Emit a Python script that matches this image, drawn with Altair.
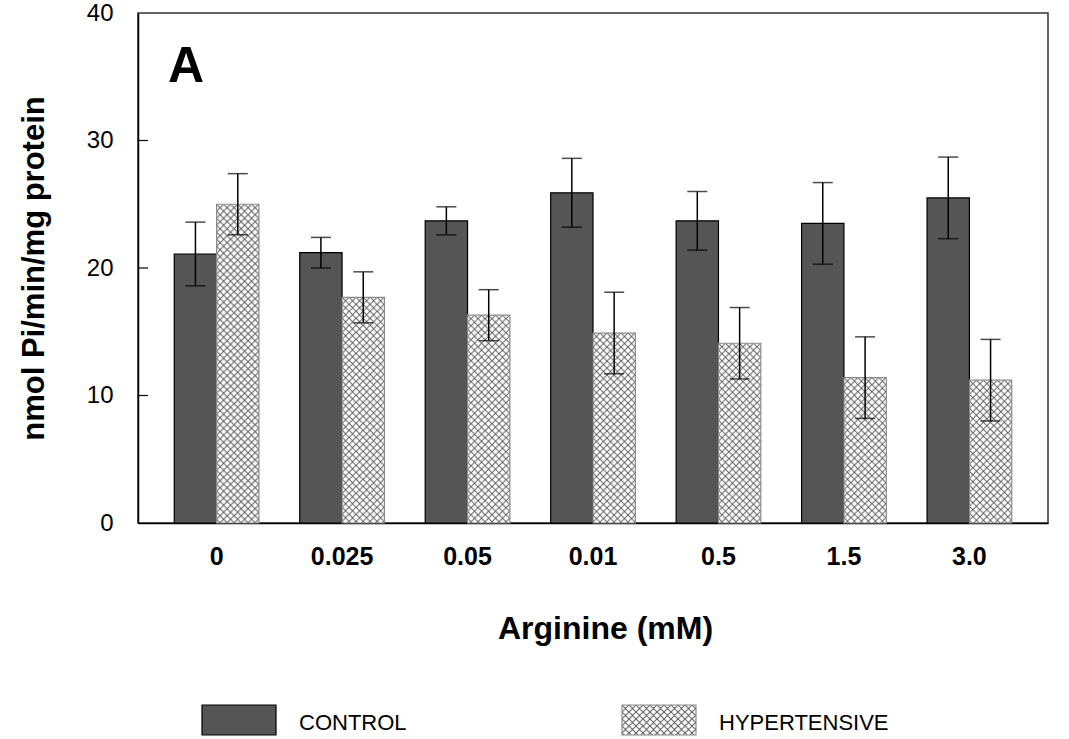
import urllib.parse

import altair as alt
import pandas as pd

# Arginine doses (x categories) and the two groups
doses = ["0", "0.025", "0.05", "0.01", "0.5", "1.5", "3.0"]
series = ["CONTROL", "HYPERTENSIVE"]

# Enzyme activity, nmol Pi/min/mg protein (mean and SEM)
control_mean = [21.1, 21.2, 23.7, 25.9, 23.7, 23.5, 25.5]
control_sem = [2.5, 1.2, 1.1, 2.7, 2.3, 3.2, 3.2]
hyper_mean = [25.0, 17.7, 16.3, 14.9, 14.1, 11.4, 11.2]
hyper_sem = [2.4, 2.0, 2.0, 3.2, 2.8, 3.2, 3.2]

y_ticks = [0, 10, 20, 30, 40]
inner_ticks = [10, 20, 30]

FONT = "Liberation Sans"
DARK = "#555555"

rows = []
for i, d in enumerate(doses):
    rows.append({"dose": d, "group": series[0], "mean": control_mean[i], "sem": control_sem[i]})
    rows.append({"dose": d, "group": series[1], "mean": hyper_mean[i], "sem": hyper_sem[i]})
df = pd.DataFrame(rows)

# Cross-hatch texture drawn at its own pixel scale inside any image box
hatch_svg = (
    "<svg xmlns='http://www.w3.org/2000/svg'>"
    "<defs><pattern id='h' width='7' height='7' patternUnits='userSpaceOnUse'>"
    "<path d='M-1,-1L8,8M8,-1L-1,8' stroke='#5e5e5e' stroke-width='1' fill='none'/>"
    "</pattern></defs>"
    "<rect width='100%' height='100%' fill='white'/>"
    "<rect width='100%' height='100%' fill='url(#h)'/></svg>"
)
HATCH_URL = "data:image/svg+xml;utf8," + urllib.parse.quote(hatch_svg)

x_enc = alt.X(
    "dose:N",
    sort=doses,
    scale=alt.Scale(domain=doses, paddingInner=0.325, paddingOuter=0.289),
    axis=alt.Axis(
        title="Arginine (mM)",
        labelAngle=0,
        ticks=False,
        tickSize=0,
        labelPadding=21,
        labelFont=FONT,
        labelFontSize=25,
        labelFontWeight="bold",
        labelColor="black",
        titleFont=FONT,
        titleFontSize=32,
        titleFontWeight="bold",
        titleColor="black",
        titlePadding=44,
        titleX=467,
        titleAlign="center",
        domainColor="black",
        domainWidth=1.5,
    ),
)
xoff = alt.XOffset("group:N", sort=series, scale=alt.Scale(domain=series, paddingInner=0, paddingOuter=0))
y_scale = alt.Scale(domain=[0, 40], nice=False)
y_enc = alt.Y(
    "mean:Q",
    scale=y_scale,
    axis=alt.Axis(
        title="nmol Pi/min/mg protein",
        values=y_ticks,
        ticks=False,
        tickSize=0,
        grid=False,
        labelPadding=25,
        labelFont=FONT,
        labelFontSize=24,
        labelColor="black",
        titleFont=FONT,
        titleFontSize=31,
        titleFontWeight="bold",
        titleColor="black",
        titlePadding=36,
        domainColor="black",
        domainWidth=1.5,
    ),
)

base = alt.Chart(df)

control_bars = base.transform_filter(alt.datum.group == series[0]).mark_bar(
    fill=DARK, stroke="black", strokeWidth=1.2
).encode(x=x_enc, xOffset=xoff, y=y_enc)

hyper = base.transform_filter(alt.datum.group == series[1])
hyper_fill = hyper.mark_image(aspect=False).encode(
    x=x_enc, xOffset=xoff, y=y_enc, y2=alt.datum(0), url=alt.value(HATCH_URL)
)
hyper_outline = hyper.mark_bar(fill="white", fillOpacity=0, stroke="#8a8a8a", strokeWidth=1.2).encode(
    x=x_enc, xOffset=xoff, y=y_enc
)

err = base.transform_calculate(lo="datum.mean - datum.sem", hi="datum.mean + datum.sem")
err_line = err.mark_rule(color="black", strokeWidth=1.5).encode(
    x=x_enc, xOffset=xoff, y=alt.Y("lo:Q", scale=y_scale), y2="hi:Q"
)
err_top = err.mark_tick(color="black", thickness=1.5, size=20).encode(
    x=x_enc, xOffset=xoff, y=alt.Y("hi:Q", scale=y_scale)
)
err_bot = err.mark_tick(color="black", thickness=1.5, size=20).encode(
    x=x_enc, xOffset=xoff, y=alt.Y("lo:Q", scale=y_scale)
)

# Inward-pointing y ticks
tick_rules = alt.Chart(pd.DataFrame({"t": inner_ticks})).mark_rule(color="black", strokeWidth=1.2).encode(
    y=alt.Y("t:Q", scale=y_scale), x=alt.value(0), x2=alt.value(10)
)

panel_label = alt.Chart(pd.DataFrame({"label": ["A"]})).mark_text(
    font=FONT, fontSize=50, fontWeight="bold", align="left", baseline="alphabetic", color="black"
).encode(text="label:N", x=alt.value(30), y=alt.value(69))

main = alt.layer(
    control_bars, hyper_fill, hyper_outline, err_line, err_top, err_bot, tick_rules, panel_label
).properties(width=910, height=510, view=alt.ViewBackground(stroke="#333333", strokeWidth=1.5))

# Legend row
leg_df = pd.DataFrame({"group": series})
leg_x = alt.X(
    "group:N",
    sort=series,
    scale=alt.Scale(domain=series, range=[64, 558], paddingInner=0.8238, paddingOuter=0),
    axis=None,
)
leg_base = alt.Chart(leg_df)
leg_control = leg_base.transform_filter(alt.datum.group == series[0]).mark_rect(
    fill=DARK, stroke="black", strokeWidth=1.2
).encode(x=leg_x)
leg_hyper = leg_base.transform_filter(alt.datum.group == series[1]).mark_image(aspect=False).encode(
    x=leg_x, url=alt.value(HATCH_URL)
)
leg_hyper_outline = leg_base.transform_filter(alt.datum.group == series[1]).mark_rect(
    fill="white", fillOpacity=0, stroke="#8a8a8a", strokeWidth=1.2
).encode(x=leg_x)
leg_text = leg_base.mark_text(
    font=FONT, fontSize=22, align="left", baseline="middle", dx=60, dy=3, color="black"
).encode(x=leg_x, text="group:N")

legend = alt.layer(leg_control, leg_hyper, leg_hyper_outline, leg_text).properties(
    width=910, height=30, view=alt.ViewBackground(stroke="transparent")
)

chart = (
    alt.vconcat(main, legend, spacing=58)
    .properties(padding={"left": 17, "top": 0, "right": 5, "bottom": 0})
    .configure_view(stroke="transparent")
    .configure_concat(spacing=58)
)

chart.save("out.html", embed_options={"renderer": "svg", "actions": False})
